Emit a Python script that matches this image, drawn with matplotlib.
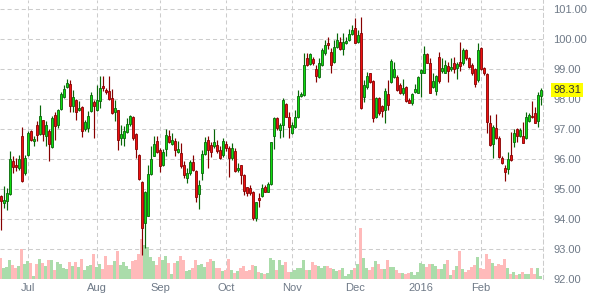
import numpy as np
import pandas as pd
import matplotlib
matplotlib.use("Agg")
import matplotlib.pyplot as plt
from matplotlib.transforms import blended_transform_factory, offset_copy

plt.rcParams['font.family'] = ['Liberation Sans', 'DejaVu Sans']

# ---------------- data ----------------
start_date = "2015-06-18"
end_date = "2016-02-29"
holidays = ["2015-12-25", "2016-01-01"]
month_labels = ["Jul", "Aug", "Sep", "Oct", "Nov", "Dec", "2016", "Feb"]
y_ticks = [92, 93, 94, 95, 96, 97, 98, 99, 100, 101]
last_price = 98.31

opens = [
    94.76, 94.53, 94.59, 94.84, 95.92, 95.80, 95.70, 96.78, 95.53, 96.14,
    96.92, 96.60, 97.14, 96.84, 97.29, 96.78, 96.92, 96.40, 97.48, 97.14,
    97.67, 98.07, 98.40, 98.50, 97.76, 97.98, 97.62, 97.73, 97.00, 97.03,
    97.59, 97.90, 97.62, 97.92, 98.44, 98.31, 98.26, 98.03, 97.56, 97.62,
    96.70, 96.70, 96.89, 97.18, 97.40, 96.84, 96.14, 95.22, 93.87, 94.11,
    95.51, 96.11, 96.59, 96.29, 95.81, 96.33, 96.78, 96.51, 96.59, 96.22,
    96.20, 95.80, 95.36, 95.53, 95.90, 95.60, 94.82, 95.53, 96.16, 96.64,
    96.47, 96.42, 96.47, 96.31, 96.12, 96.49, 96.38, 96.05, 96.27, 95.64,
    95.80, 95.47, 95.05, 95.02, 94.89, 94.04, 94.69, 94.78, 95.08, 94.91,
    95.16, 96.75, 97.36, 96.97, 97.13, 97.83, 97.39, 96.88, 97.08, 97.39,
    98.10, 98.13, 99.36, 99.17, 99.32, 98.99, 98.72, 99.13, 99.52, 99.86,
    99.58, 99.24, 99.72, 99.91, 99.66, 99.86, 99.97, 100.17, 100.36, 99.91,
    100.19, 98.08, 98.39, 98.86, 98.61, 97.39, 98.02, 97.77, 97.63, 98.17,
    98.58, 98.74, 98.74, 98.47, 98.19, 98.39, 97.97, 97.88, 98.24, 98.21,
    98.86, 98.88, 99.50, 99.21, 98.39, 98.28, 99.39, 98.94, 98.88, 99.10,
    98.99, 99.21, 99.02, 99.24, 99.19, 99.63, 99.36, 99.13, 98.99, 98.63,
    99.69, 99.02, 98.83, 97.19, 96.50, 97.02, 96.69, 96.02, 95.69, 95.66,
    96.13, 96.58, 96.99, 96.77, 96.77, 96.69, 97.28, 97.43, 97.52, 97.28,
    98.10,
]

closes = [
    94.59, 94.64, 94.87, 96.00, 95.73, 95.73, 96.00, 95.26, 96.03, 96.87,
    96.64, 96.67, 96.81, 97.42, 96.84, 97.14, 96.51, 97.37, 97.11, 97.62,
    98.18, 98.33, 98.53, 97.76, 98.07, 97.56, 97.70, 96.92, 97.22, 97.42,
    98.12, 97.76, 97.98, 98.37, 98.37, 98.22, 98.00, 97.53, 97.70, 96.62,
    96.84, 96.92, 97.18, 97.44, 96.70, 96.33, 95.33, 93.70, 94.89, 95.51,
    96.00, 96.51, 96.22, 95.76, 96.22, 96.81, 96.56, 96.62, 96.31, 96.33,
    95.78, 95.46, 95.53, 95.89, 95.64, 94.74, 95.13, 96.16, 96.56, 96.31,
    96.23, 96.56, 96.25, 96.05, 96.61, 96.38, 96.05, 96.36, 95.60, 95.71,
    95.47, 94.93, 94.86, 94.88, 94.02, 94.56, 94.63, 95.05, 94.91, 95.18,
    96.56, 97.38, 97.02, 97.13, 97.97, 97.41, 97.08, 97.13, 97.39, 98.11,
    98.17, 99.13, 99.13, 99.50, 99.19, 98.78, 99.19, 99.63, 99.80, 99.81,
    99.13, 99.74, 99.97, 99.66, 99.91, 99.93, 100.17, 100.30, 99.88, 100.13,
    97.69, 98.47, 98.77, 98.58, 97.36, 98.02, 97.54, 97.61, 98.28, 97.80,
    99.28, 98.99, 98.30, 98.19, 98.36, 97.94, 97.88, 98.17, 98.32, 98.72,
    98.97, 99.50, 99.21, 98.21, 98.61, 98.77, 98.61, 99.02, 99.13, 98.94,
    99.08, 98.99, 99.17, 99.10, 99.63, 99.36, 99.08, 98.88, 98.50, 99.63,
    98.99, 98.86, 97.24, 96.47, 97.06, 96.69, 96.06, 95.88, 95.58, 95.99,
    95.97, 96.86, 96.77, 96.97, 96.54, 97.39, 97.47, 97.39, 97.21, 98.13,
    98.31,
]

highs = [
    94.81, 95.09, 95.03, 96.26, 96.09, 96.03, 96.14, 97.07, 96.14, 96.92,
    96.98, 96.76, 97.26, 97.81, 97.31, 97.26, 97.00, 97.42, 97.56, 97.67,
    98.22, 98.48, 98.67, 98.64, 98.31, 98.00, 97.92, 97.78, 97.31, 97.59,
    98.22, 97.98, 98.48, 98.76, 98.76, 98.37, 98.78, 98.33, 97.98, 97.64,
    97.14, 97.09, 97.37, 97.48, 97.42, 96.87, 96.18, 95.26, 94.92, 95.81,
    96.42, 96.76, 96.76, 96.37, 96.33, 97.00, 96.98, 96.87, 96.70, 96.59,
    96.53, 95.92, 95.69, 95.97, 96.14, 95.64, 95.30, 96.31, 96.72, 96.75,
    96.58, 97.00, 96.64, 96.42, 96.70, 96.61, 96.42, 96.53, 96.36, 95.86,
    95.80, 95.49, 95.08, 95.13, 94.93, 94.58, 94.86, 95.16, 95.13, 95.22,
    96.58, 97.41, 97.39, 97.21, 98.02, 97.88, 97.58, 97.24, 97.63, 98.30,
    98.24, 99.54, 99.52, 99.54, 99.41, 99.13, 99.36, 99.69, 99.97, 100.06,
    99.69, 99.97, 100.19, 100.06, 100.19, 100.06, 100.32, 100.47, 100.69, 100.30,
    100.72, 98.63, 98.91, 98.88, 98.63, 98.08, 98.08, 97.80, 98.36, 98.63,
    99.32, 99.24, 98.80, 98.52, 98.66, 98.43, 98.02, 98.21, 98.50, 98.77,
    98.99, 99.77, 99.54, 99.36, 98.86, 98.80, 99.58, 99.36, 99.30, 99.24,
    99.36, 99.41, 99.24, 99.91, 99.69, 99.66, 99.39, 99.19, 99.02, 99.88,
    99.72, 99.08, 98.88, 97.47, 97.13, 97.50, 96.77, 96.10, 95.80, 96.24,
    96.91, 96.99, 97.02, 97.02, 97.24, 97.58, 97.52, 97.94, 97.72, 98.24,
    98.38,
]

lows = [
    93.64, 94.37, 94.31, 94.81, 95.53, 95.59, 95.64, 95.22, 95.48, 96.11,
    96.59, 96.42, 96.59, 96.81, 96.59, 96.44, 95.92, 96.37, 96.64, 97.03,
    97.64, 98.03, 98.37, 97.56, 97.56, 97.29, 97.59, 96.73, 96.92, 96.89,
    97.56, 96.70, 97.59, 97.70, 98.26, 98.18, 97.96, 97.51, 97.26, 96.29,
    96.47, 96.44, 96.87, 97.09, 96.64, 96.03, 95.31, 92.80, 93.03, 94.09,
    95.48, 96.09, 96.20, 95.56, 95.76, 96.11, 96.53, 96.48, 96.11, 96.20,
    95.70, 95.36, 95.19, 95.47, 95.60, 94.58, 94.33, 95.30, 96.12, 95.69,
    96.08, 96.36, 96.19, 96.00, 96.08, 96.25, 95.41, 95.97, 95.56, 95.56,
    95.16, 94.80, 94.78, 94.80, 93.96, 93.93, 94.41, 94.74, 94.89, 94.89,
    95.13, 96.34, 96.97, 96.69, 96.74, 97.39, 96.69, 96.83, 97.02, 97.36,
    98.06, 98.10, 99.10, 99.13, 99.13, 98.58, 98.69, 99.10, 99.47, 99.66,
    98.88, 99.21, 99.69, 99.63, 99.47, 99.83, 99.94, 100.13, 99.86, 99.88,
    97.66, 97.91, 98.32, 98.52, 97.24, 97.36, 97.47, 97.39, 97.21, 97.63,
    98.54, 98.69, 98.28, 98.17, 98.13, 97.91, 97.86, 97.80, 98.19, 98.19,
    98.08, 98.86, 99.19, 98.19, 98.36, 98.13, 98.52, 98.88, 98.86, 98.58,
    98.94, 98.88, 98.66, 98.94, 99.13, 99.30, 99.02, 98.80, 98.41, 98.58,
    98.97, 98.80, 96.88, 96.43, 96.02, 96.66, 96.02, 95.83, 95.28, 95.50,
    95.94, 96.39, 96.58, 96.74, 96.52, 96.66, 97.24, 97.36, 97.19, 97.08,
    97.80,
]

volumes = [
    21, 11, 12, 19, 14, 11, 13, 30, 15, 18, 16, 3, 15, 20, 16, 13, 19, 19, 9, 17,
    15, 11, 10, 17, 13, 17, 12, 20, 9, 13, 14, 25, 12, 15, 10, 23, 14, 14, 18, 28,
    14, 17, 13, 10, 18, 19, 25, 40, 34, 32, 22, 18, 14, 22, 19, 23, 16, 5, 16, 18,
    23, 19, 8, 9, 11, 19, 14,
    15, 12, 17, 20, 18, 11, 11, 8, 9, 20, 9, 6, 8, 11, 13, 8, 9, 14, 13, 7,
    6, 5, 6, 21, 19, 9, 19, 14, 17, 7, 7, 9, 11, 11, 19, 9, 9, 17, 14, 13,
    11, 13, 13, 11, 10, 8, 9, 11, 3, 5, 9, 11, 15, 51, 21, 11, 9, 12, 18, 15,
    10, 10, 19, 12, 12, 9,
    6, 6, 5, 6, 7, 4, 7, 16, 15, 12, 15, 15, 13, 10, 10, 15, 19, 4, 9, 13,
    28, 10, 7, 9, 12, 14, 22, 11, 10, 25, 20, 16, 13, 15, 14, 20, 11, 5, 7, 4,
    5, 7, 5, 5, 11, 5, 11, 3,
]

# ---------------- figure ----------------
W, H, DPI = 592, 306, 100
fig = plt.figure(figsize=(W / DPI, H / DPI), dpi=DPI)
ax = fig.add_axes([0, 27 / H, 543 / W, 279 / H])

dates = pd.bdate_range(start_date, end_date, freq="C", holidays=holidays)
n = len(closes)
x = np.arange(n)

o = np.array(opens)
c = np.array(closes)
h = np.array(highs)
l = np.array(lows)
v = np.array(volumes, dtype=float)
up = c >= o

y_min, y_max = 92, 101.3
# volume drawn on its own scale: axis height 279 px -> volume units per price unit
vol_per_unit = 279 / (y_max - y_min)

vol_colors = np.where(up, "#aadcaa", "#ffbaba")
ax.bar(x, v / vol_per_unit, bottom=y_min, width=1.0, color=vol_colors,
       linewidth=0, zorder=1)

wick_colors = np.where(up, "#086608", "#860000")
ax.vlines(x, l, h, colors=wick_colors, linewidth=0.85, zorder=2)

body_fill = np.where(up, "#10dc10", "#f01010")
body_edge = np.where(up, "#086608", "#860000")
body_h = np.maximum(np.abs(c - o), 0.03)
ax.bar(x, body_h, bottom=np.minimum(o, c), width=0.66, color=body_fill,
       edgecolor=body_edge, linewidth=0.6, zorder=3)

ax.set_xlim(-0.33, n - 0.33)
ax.set_ylim(y_min, y_max)

# month ticks
month_starts = []
prev = None
for i, d in enumerate(dates):
    key = (d.year, d.month)
    if prev is not None and key != prev:
        month_starts.append(i)
    prev = key
ax.set_xticks(month_starts)
ax.set_xticklabels(month_labels[:len(month_starts)])
ax.set_yticks(y_ticks)
ax.set_yticklabels([f"{t:.2f}" for t in y_ticks])

ax.yaxis.tick_right()
lab_col = "#6e7987"
ax.tick_params(axis="y", length=0, pad=7.3, labelsize=8.0, labelcolor=lab_col)
ax.tick_params(axis="x", length=0, pad=3.2, labelsize=8.0, labelcolor=lab_col)

ax.grid(True, color="#cccccc", linewidth=0.75, linestyle=(0, (3.9, 2.9)))
ax.set_axisbelow(True)
for side in ["top", "left", "bottom"]:
    ax.spines[side].set_visible(False)
ax.spines["right"].set_color("#cccccc")
ax.spines["right"].set_linewidth(0.75)
ax.spines["right"].set_linestyle((0, (3.9, 2.9)))
ax.patch.set_visible(False)

# last price label
trans = blended_transform_factory(ax.transAxes, ax.transData)
trans = offset_copy(trans, fig=fig, x=10, y=0, units="dots")
ax.text(1, last_price, f"{last_price:.2f}", transform=trans, ha="left",
        va="center", fontsize=8.0, color="#333333", zorder=5, clip_on=False,
        bbox=dict(boxstyle="square,pad=0.18", fc="#ffff00", ec="none"))

fig.savefig("out.png", dpi=DPI)
